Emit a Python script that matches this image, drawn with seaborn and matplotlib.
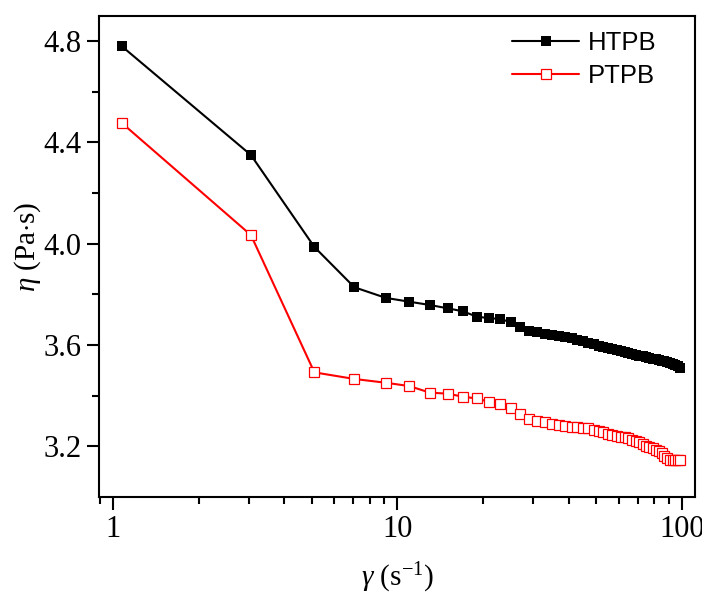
import numpy as np
import pandas as pd
import seaborn as sns
import matplotlib.pyplot as plt
from matplotlib.ticker import LogLocator, FixedLocator, NullFormatter

# shear rate (s^-1)
shear_rate = [1.07, 3.05, 5.1, 7.05, 9.1, 11, 13, 15, 17, 19, 21, 23, 25, 27, 29,
              31, 33, 35, 37, 39, 41, 43, 45, 47, 49, 51, 53, 55, 57, 59,
              61, 63, 65, 67, 69, 71, 73, 75, 77, 79, 81, 83, 85, 87, 89,
              91, 93, 95, 97, 99]

htpb = [4.78, 4.35, 3.987, 3.828, 3.786, 3.771, 3.758, 3.745, 3.733, 3.712,
        3.706, 3.703, 3.690, 3.672, 3.657, 3.650, 3.644, 3.640, 3.636, 3.630,
        3.626, 3.620, 3.614, 3.608, 3.603, 3.598, 3.594, 3.590, 3.585, 3.580,
        3.577, 3.574, 3.570, 3.566, 3.562, 3.558, 3.555, 3.552, 3.549, 3.546,
        3.543, 3.541, 3.538, 3.535, 3.532, 3.529, 3.526, 3.522, 3.516, 3.510]

ptpb = [4.477, 4.034, 3.492, 3.466, 3.451, 3.438, 3.412, 3.408, 3.396, 3.389,
        3.376, 3.366, 3.353, 3.326, 3.306, 3.300, 3.295, 3.290, 3.284, 3.280,
        3.278, 3.276, 3.274, 3.272, 3.266, 3.261, 3.255, 3.249, 3.243, 3.240,
        3.237, 3.235, 3.232, 3.227, 3.222, 3.216, 3.210, 3.203, 3.197, 3.192,
        3.186, 3.181, 3.172, 3.160, 3.152, 3.148, 3.146, 3.146, 3.146, 3.146]

df = pd.DataFrame({'rate': shear_rate, 'HTPB': htpb, 'PTPB': ptpb})

sns.set_style('ticks')
plt.rcParams['font.family'] = ['Liberation Serif', 'DejaVu Serif']
plt.rcParams['mathtext.fontset'] = 'custom'
plt.rcParams['mathtext.rm'] = 'Liberation Serif'
plt.rcParams['mathtext.it'] = 'Liberation Serif:italic'
for k in ['text.color', 'axes.labelcolor', 'xtick.color', 'ytick.color', 'axes.edgecolor']:
    plt.rcParams[k] = 'black'

fig = plt.figure(figsize=(7.02, 5.95), dpi=100)
ax = fig.add_axes([0.1415, 0.1647, 0.8485, 0.8089])

sns.lineplot(data=df, x='rate', y='HTPB', ax=ax, color='black', lw=1.5,
             marker='s', markersize=7.5, markeredgewidth=0, label='HTPB')
sns.lineplot(data=df, x='rate', y='PTPB', ax=ax, color='red', lw=1.5,
             marker='s', markersize=7.2, markerfacecolor='white',
             markeredgecolor='red', markeredgewidth=0.9, label='PTPB')

ax.set_xscale('log')
ax.set_xlim(0.893, 111.4)
ax.set_ylim(3.0, 4.9)
ax.xaxis.set_major_locator(FixedLocator([1, 10, 100]))
ax.set_xticklabels(['1', '10', '100'])
ax.xaxis.set_minor_locator(LogLocator(base=10, subs=np.arange(2, 10) * 1.0))
ax.xaxis.set_minor_formatter(NullFormatter())
ax.yaxis.set_major_locator(FixedLocator([3.2, 3.6, 4.0, 4.4, 4.8]))
ax.set_yticklabels(['3.2', '3.6', '4.0', '4.4', '4.8'])
ax.yaxis.set_minor_locator(FixedLocator([3.4, 3.8, 4.2, 4.6]))

for s in ax.spines.values():
    s.set_linewidth(1.5)
ax.tick_params(which='major', length=9, width=1.5, labelsize=22, pad=4)
ax.tick_params(which='minor', length=5, width=1.5)

ax.set_xlabel(r'$\mathit{\gamma}$ (s$^{\mathrm{-1}}$)', fontsize=21, labelpad=12)
ax.set_ylabel(r'$\mathit{\eta}$ (Pa$\cdot$s)', fontsize=21)
ax.yaxis.set_label_coords(-0.095, 0.52)

leg = ax.legend(loc='upper left', bbox_to_anchor=(0.693, 0.968), frameon=False,
                handlelength=2.6, prop={'family': 'Liberation Sans', 'size': 18.5},
                borderaxespad=0, borderpad=0, labelspacing=0.35, handletextpad=0.35)

fig.savefig('out.png', dpi=100)
